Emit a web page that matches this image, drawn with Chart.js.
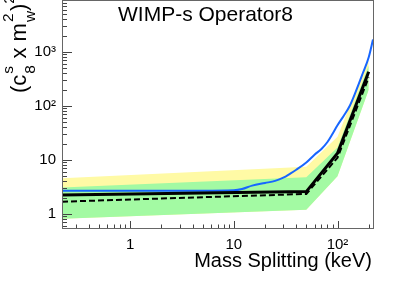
<!DOCTYPE html>
<html>
<head>
<meta charset="utf-8">
<script src="https://cdn.jsdelivr.net/npm/chart.js@4"></script>
<style>
  body { margin: 0; background: #fff; }
  #wrap { position: relative; width: 415px; height: 281px; overflow: hidden; font-family: "Liberation Sans", Arial, sans-serif; color: #000; }
  canvas { position: absolute; left: 0; top: 0; }
  .lbl { position: absolute; white-space: nowrap; }
  #title { left: 118px; top: 3px; font-size: 21px; line-height: 21px; }
  #xtitle { right: 43px; top: 250px; font-size: 20px; line-height: 20px; }
  #ytitle { left: 7px; top: 93px; font-size: 22px; line-height: 24px; transform-origin: 0 0; transform: rotate(-90deg); }
  .st { display: inline-block; position: relative; height: 1px; }
  .st i, .sq { font-style: normal; font-size: 0.7em; line-height: 1; }
  .st i { position: absolute; left: 1px; }
  .st .up { bottom: 11px; }
  .st .dn { bottom: -11.5px; }
  .sq { position: relative; top: -12px; }
</style>
</head>
<body>
<div id="wrap">
  <canvas id="chart" width="415" height="281"></canvas>
  <div class="lbl" id="title">WIMP-s Operator8</div>
  <div class="lbl" id="xtitle">Mass Splitting (keV)</div>
  <div class="lbl" id="ytitle">(c<span class="st" style="width:10px"><i class="up">s</i><i class="dn">8</i></span> x m<span class="st" style="width:12px"><i class="up">2</i><i class="dn">w</i></span>)<span class="sq">2</span></div>
</div>
<script>
// band edges (keV)
const bandX = [0.22, 50, 100, 200];
const yellowHigh = [4.6, 7.5, 27, 750];
const greenHigh = [3.1, 4.8, 17, 560];
const greenLow = [0.82, 1.2, 5, 200];

// limits
const limitX = [0.22, 50, 100, 200];
const observed = [2.25, 2.6, 13.3, 430];
const expected = [1.69, 2.35, 11, 340];

// blue curve
const blueX = [0.22, 1, 5, 10, 12, 15, 20, 25, 30, 35, 40, 50, 60, 70, 80, 90, 100, 115, 131, 150, 175, 200, 220];
const blueY = [2.7, 2.7, 2.7, 2.75, 2.9, 3.35, 3.75, 4.1, 4.7, 5.6, 6.6, 9, 12.5, 16, 21.5, 31, 44, 66, 100, 185, 400, 800, 1700];

const xTickValues = [1, 10, 100];
const xTickLabels = ['1', '10', '10²'];
const yTickValues = [1, 10, 100, 1000];
const yTickLabels = ['1', '10', '10²', '10³'];

const pts = (xs, ys) => xs.map((x, i) => ({ x: x, y: ys[i] }));

const frameTicks = {
  id: 'frameTicks',
  afterDraw(chart) {
    const ctx = chart.ctx;
    const a = chart.chartArea;
    const xs = chart.scales.x, ys = chart.scales.y;
    ctx.save();
    ctx.strokeStyle = '#444';
    ctx.lineWidth = 1;
    ctx.beginPath();
    [0.1, 1, 10, 100].forEach(d => {
      for (let m = 1; m <= 9; m++) {
        const v = m * d;
        if (v < xs.min || v > xs.max) continue;
        const px = Math.round(xs.getPixelForValue(v)) + 0.5;
        const len = m === 1 ? 7 : 3.5;
        ctx.moveTo(px, a.bottom);
        ctx.lineTo(px, a.bottom - len);
      }
    });
    [0.1, 1, 10, 100, 1000].forEach(d => {
      for (let m = 1; m <= 9; m++) {
        const v = m * d;
        if (v < ys.min || v > ys.max) continue;
        const py = Math.round(ys.getPixelForValue(v)) + 0.5;
        const len = m === 1 ? 10 : 5;
        ctx.moveTo(a.left, py);
        ctx.lineTo(a.left + len, py);
      }
    });
    ctx.stroke();
    ctx.strokeStyle = '#666';
    ctx.strokeRect(a.left + 0.5, a.top - 0.5, a.right - a.left, a.bottom - a.top + 1);
    ctx.restore();
  }
};

new Chart(document.getElementById('chart'), {
  type: 'line',
  data: {
    datasets: [
      {
        data: pts(bandX, yellowHigh),
        borderWidth: 0, pointRadius: 0,
        backgroundColor: 'rgb(255,250,165)',
        fill: 2, order: 10
      },
      {
        data: pts(bandX, greenHigh),
        borderWidth: 0, pointRadius: 0,
        backgroundColor: 'rgb(163,250,163)',
        fill: 2, order: 9
      },
      {
        data: pts(bandX, greenLow),
        borderWidth: 0, pointRadius: 0,
        fill: false, order: 8
      },
      {
        data: pts(blueX, blueY),
        borderColor: '#1766ff', borderWidth: 2, pointRadius: 0,
        cubicInterpolationMode: 'monotone',
        fill: false, order: 3
      },
      {
        data: pts(limitX, expected),
        borderColor: '#000', borderWidth: 2, borderDash: [6, 3], pointRadius: 0,
        fill: false, order: 2
      },
      {
        data: pts(limitX, observed),
        borderColor: '#000', borderWidth: 3, pointRadius: 0,
        fill: false, order: 1
      }
    ]
  },
  options: {
    responsive: false,
    animation: false,
    devicePixelRatio: 1,
    layout: { padding: { left: 0, top: 1, right: 42, bottom: 0 } },
    plugins: { legend: { display: false }, tooltip: { enabled: false } },
    scales: {
      x: {
        type: 'logarithmic',
        min: 0.22, max: 220,
        bounds: 'data',
        grid: { display: false, drawTicks: false },
        border: { display: false },
        afterBuildTicks: s => { s.ticks = xTickValues.map(v => ({ value: v })); },
        afterFit: s => { s.height = 53; s.paddingLeft = 0; s.paddingRight = 0; },
        ticks: {
          autoSkip: false, maxRotation: 0, padding: 8,
          color: '#000',
          font: { family: 'Liberation Sans', size: 15 },
          callback: v => { const i = xTickValues.indexOf(v); return i >= 0 ? xTickLabels[i] : ''; }
        }
      },
      y: {
        type: 'logarithmic',
        min: 0.55, max: 8800,
        bounds: 'data',
        grid: { display: false, drawTicks: false },
        border: { display: false },
        afterBuildTicks: s => { s.ticks = yTickValues.map(v => ({ value: v })); },
        afterFit: s => { s.width = 62; s.paddingTop = 0; s.paddingBottom = 0; },
        ticks: {
          autoSkip: false, padding: 6,
          color: '#000',
          font: { family: 'Liberation Sans', size: 15 },
          callback: v => { const i = yTickValues.indexOf(v); return i >= 0 ? yTickLabels[i] : ''; }
        }
      }
    }
  },
  plugins: [frameTicks]
});
</script>
</body>
</html>
